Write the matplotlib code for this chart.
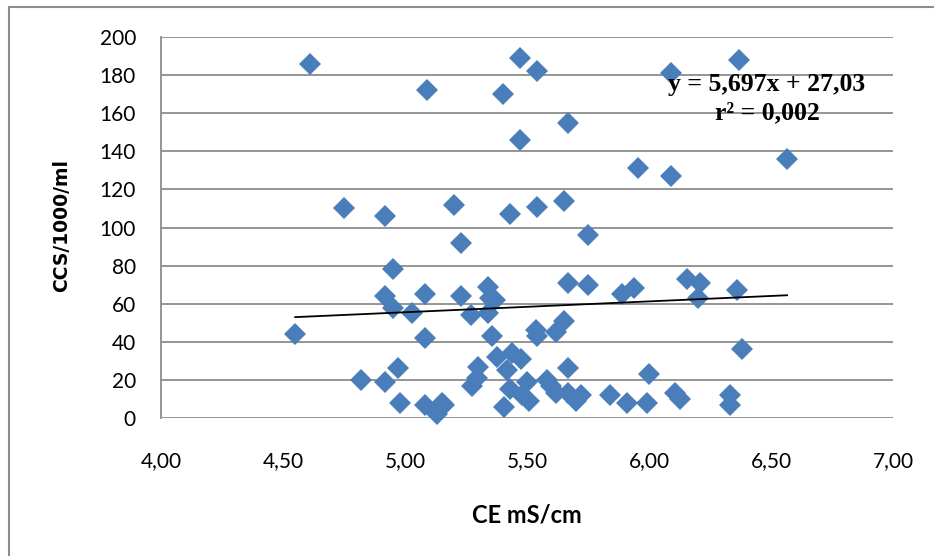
import matplotlib
matplotlib.use("Agg")
import matplotlib.pyplot as plt
from matplotlib.lines import Line2D
import numpy as np

# Data
ce = [4.55, 4.61, 4.75, 4.82, 4.92, 4.92, 4.92, 4.95, 4.95, 4.97,
      4.98, 5.03, 5.08, 5.08, 5.08, 5.09, 5.13, 5.15, 5.16, 5.20,
      5.23, 5.23, 5.27, 5.275, 5.295, 5.30, 5.34, 5.35, 5.37, 5.34,
      5.355, 5.377, 5.40, 5.405, 5.42, 5.43, 5.43, 5.44, 5.47, 5.47,
      5.475, 5.48, 5.50, 5.51, 5.54, 5.54, 5.535, 5.54, 5.58, 5.60,
      5.62, 5.62, 5.65, 5.65, 5.668, 5.668, 5.668, 5.67, 5.70, 5.72,
      5.75, 5.75, 5.84, 5.89, 5.91, 5.94, 5.955, 5.99, 6.00, 6.09,
      6.09, 6.107, 6.127, 6.156, 6.20, 6.21, 6.33, 6.33, 6.36, 6.37,
      6.38, 6.566]
ccs = [44, 186, 110, 20, 106, 64, 19, 58, 78, 26,
       8, 55, 65, 42, 7, 172, 2, 8, 7, 112,
       92, 64, 54, 17, 21, 27, 69, 63, 62, 55,
       43, 32, 170, 6, 25, 15, 107, 34, 189, 146,
       31, 12, 19, 9, 182, 111, 46, 43, 20, 17,
       45, 13, 114, 51, 155, 71, 26, 13, 9, 12,
       96, 70, 12, 65, 8, 68, 131, 8, 23, 181,
       127, 13, 10, 73, 63, 71, 12, 7, 67, 188,
       36, 136]

slope = 5.697
intercept = 27.03
x_ticks = [4.0, 4.5, 5.0, 5.5, 6.0, 6.5, 7.0]
x_tick_labels = ["4,00", "4,50", "5,00", "5,50", "6,00", "6,50", "7,00"]
y_ticks = [0, 20, 40, 60, 80, 100, 120, 140, 160, 180, 200]

W, H = 934, 556
fig = plt.figure(figsize=(W / 100, H / 100), dpi=100)
ax = fig.add_axes([161 / W, 1 - 418 / H, (893 - 161) / W, (418 - 37) / H])

ax.set_xlim(4, 7)
ax.set_ylim(0, 200)
ax.set_yticks(y_ticks)
ax.set_xticks(x_ticks)
ax.set_xticklabels(x_tick_labels)
ax.yaxis.grid(True, color="#8c8c8c", linewidth=1.3)
ax.set_axisbelow(True)
for s in ["top", "right", "bottom"]:
    ax.spines[s].set_visible(False)
ax.spines["left"].set_color("#8c8c8c")
ax.spines["left"].set_linewidth(1.3)
ax.tick_params(axis="both", length=0, labelsize=15)
ax.tick_params(axis="y", pad=18)
ax.tick_params(axis="x", pad=24)
for lab in ax.get_xticklabels() + ax.get_yticklabels():
    lab.set_fontfamily("Lato")

ax.plot(ce, ccs, linestyle="none", marker="D", ms=11.5, color="#4a7ebb",
        markeredgewidth=0, clip_on=False, zorder=3)

xs = np.array([min(ce), max(ce)])
ax.plot(xs, slope * xs + intercept, color="black", linewidth=1.3, zorder=4)

ax.text(0.828, 0.838, "y = 5,697x + 27,03\nr² = 0,002", transform=ax.transAxes,
        ha="center", va="center", fontsize=18.5, fontweight="bold",
        family="Liberation Serif", linespacing=1.25, zorder=5)

fig.text(62 / W, 1 - 226 / H, "CCS/1000/ml", rotation=90, ha="center", va="center",
         fontsize=13.5, fontweight="bold", family="DejaVu Sans")
fig.text(527 / W, 1 - 515 / H, "CE mS/cm", ha="center", va="center",
         fontsize=17, fontweight="bold", family="Lato")

# outer frame
fig.add_artist(Line2D([9 / W, 9 / W], [0, 1 - 7 / H], transform=fig.transFigure,
                      color="#8c8c8c", linewidth=1.5))
fig.add_artist(Line2D([9 / W, 1], [1 - 7 / H, 1 - 7 / H], transform=fig.transFigure,
                      color="#8c8c8c", linewidth=1.5))

fig.savefig("out.png", dpi=100)
